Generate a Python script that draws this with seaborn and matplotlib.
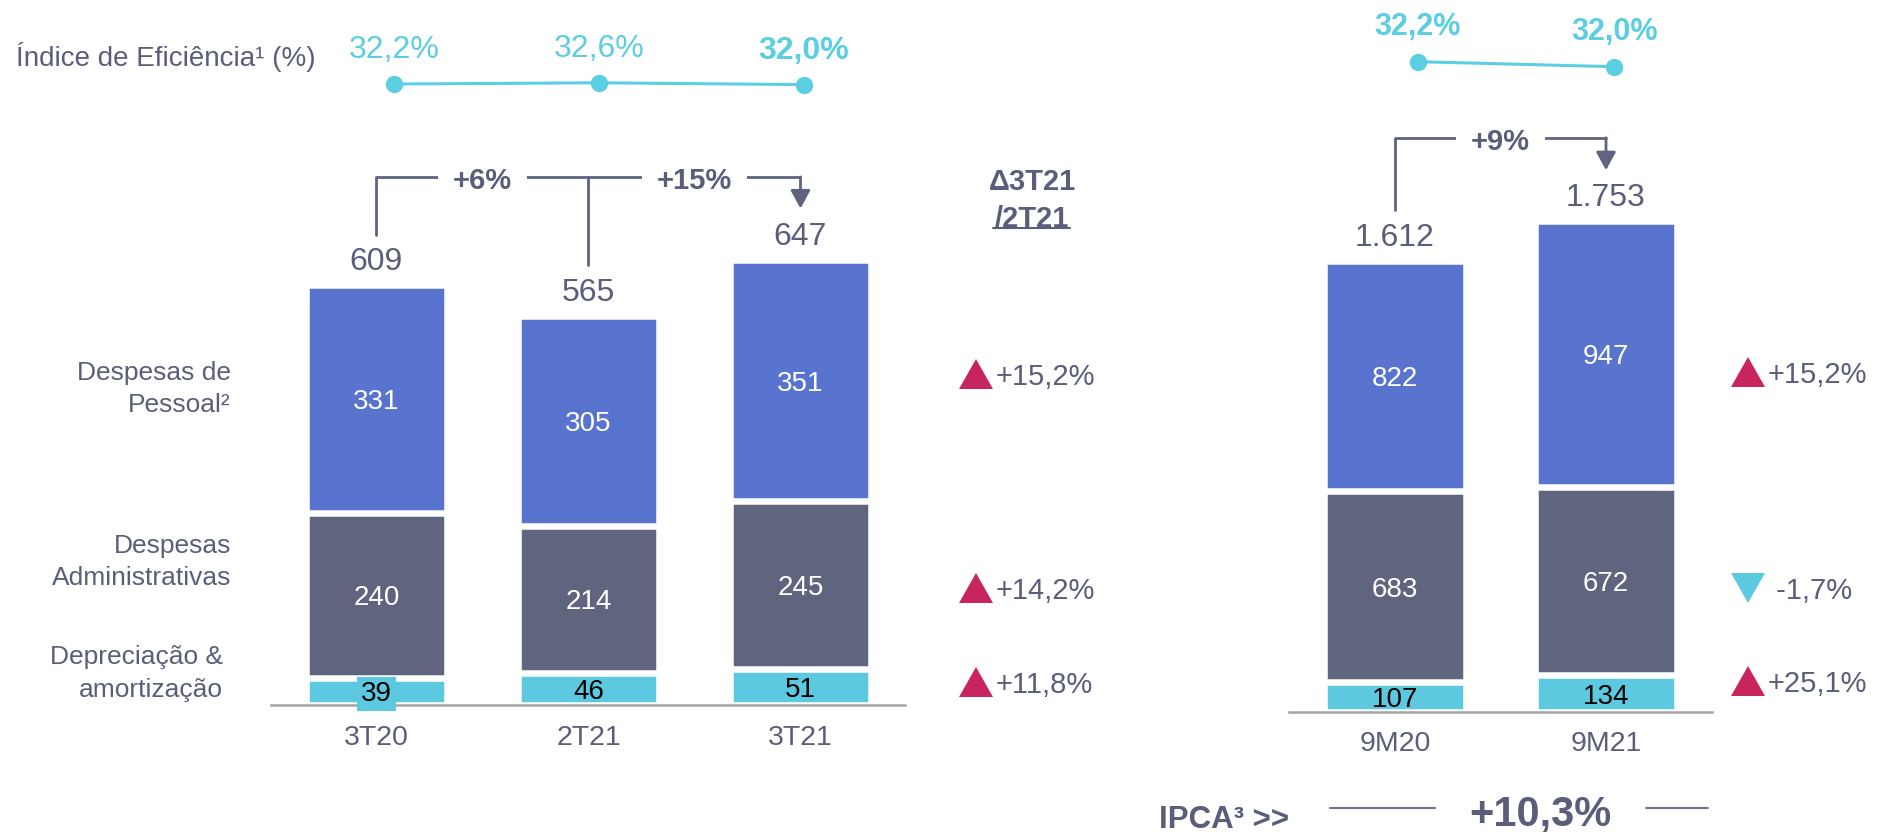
import pandas as pd
import matplotlib
matplotlib.use('Agg')
import matplotlib.pyplot as plt
from matplotlib.patches import Polygon
from matplotlib.lines import Line2D
import seaborn as sns

# quarterly panel
periods_q = ['3T20', '2T21', '3T21']
pessoal_q = [331, 305, 351]
admin_q = [240, 214, 245]
depr_q = [39, 46, 51]
total_q = [609, 565, 647]
efic_q = [32.2, 32.6, 32.0]
growth_q = ['+6%', '+15%']
delta_q = [15.2, 14.2, 11.8]

# nine months panel
periods_9m = ['9M20', '9M21']
pessoal_9m = [822, 947]
admin_9m = [683, 672]
depr_9m = [107, 134]
total_9m = [1612, 1753]
efic_9m = [32.2, 32.0]
growth_9m = ['+9%']
delta_9m = [15.2, -1.7, 25.1]

categories = [['Despesas de', 'Pessoal²'],
              ['Despesas', 'Administrativas'],
              ['Depreciação &', 'amortização']]
ipca = 10.3

BLUE = '#5874CE'
SLATE = '#60657F'
CYAN = '#5CC9E0'
PINK = '#C8245E'
TEXT = '#5A5E7A'
LINE = '#5F6380'
AXIS = '#A5A5A5'
EFF = '#5BCEE2'

sns.set_theme(style='white')
plt.rcParams['font.family'] = ['Liberation Sans', 'DejaVu Sans']

W, H = 1878, 832
fig = plt.figure(figsize=(W / 100, H / 100), dpi=100)


def fx(x):
    return x / W


def fy(y):
    return 1 - y / H


def ftext(x, y, s, size, **kw):
    # y = centre of the cap height, pixels from the top
    fig.text(fx(x), fy(y + 0.358 * size * 100 / 72), s, fontsize=size, va='baseline', **kw)


def br(v):
    return f'{v:,}'.replace(',', '.')


def stacked_panel(ax, periods, pessoal, admin, depr, totals, width, boxed=()):
    df = pd.DataFrame({'periodo': periods, 'pessoal': pessoal, 'admin': admin, 'depr': depr})
    df['mid'] = df['admin'] + df['depr']
    df['top'] = df['mid'] + df['pessoal']
    for col, color in [('top', BLUE), ('mid', SLATE), ('depr', CYAN)]:
        sns.barplot(data=df, x='periodo', y=col, order=periods, color=color, saturation=1,
                    width=width, edgecolor='white', linewidth=4.7, errorbar=None, ax=ax)
    for i, r in df.iterrows():
        parts = [(r.pessoal, r.mid, 'white'), (r.admin, r.depr, 'white'), (r.depr, 0, 'black')]
        for val, base, c in parts:
            box = None
            if c == 'black' and i in boxed:
                box = dict(boxstyle='square,pad=0.15', fc=CYAN, ec='none')
            ax.annotate(str(val), (i, base + val / 2), xytext=(0, -7.2), textcoords='offset points',
                        ha='center', va='baseline', fontsize=20, color=c, bbox=box, zorder=6)
        ax.annotate(br(totals[i]), (i, r.top), xytext=(0, 10.9), textcoords='offset points',
                    ha='center', va='baseline', fontsize=23, color=TEXT)


def style_axis(ax, xlim, ylim, pad):
    ax.set_xlim(*xlim)
    ax.set_ylim(*ylim)
    sns.despine(ax=ax, left=True)
    ax.spines['bottom'].set_color(AXIS)
    ax.spines['bottom'].set_linewidth(1.8)
    ax.spines['bottom'].set_zorder(5)
    ax.set_yticks([])
    ax.set_xlabel('')
    ax.set_ylabel('')
    ax.tick_params(axis='x', length=0, pad=pad, labelsize=20.5, labelcolor=TEXT)
    ax.patch.set_alpha(0)


def bracket(ax, totals, labels, y, lift):
    n = len(totals)
    ax.plot([0, 0, n - 1], [totals[0] + lift, y, y], color=LINE, lw=2, clip_on=False)
    for i in range(1, n - 1):
        ax.plot([i, i], [totals[i] + lift, y], color=LINE, lw=2, clip_on=False)
    for i, lab in enumerate(labels):
        ax.annotate(lab, (i + 0.5, y), xytext=(0, -8.5), textcoords='offset points',
                    ha='center', va='baseline', fontsize=21, fontweight='bold', color=TEXT,
                    bbox=dict(boxstyle='square,pad=0.5', fc='white', ec='none'), zorder=5)
    ax.annotate('', xy=(n - 1, totals[-1] + lift), xytext=(n - 1, y),
                arrowprops=dict(arrowstyle='-|>,head_length=0.55,head_width=0.3', color=LINE,
                                lw=2, shrinkA=0, shrinkB=0, mutation_scale=20))


def efficiency(ax, values, xlim, ylim, bold_all, offset, size):
    sns.lineplot(x=list(range(len(values))), y=values, ax=ax, color=EFF, lw=2.2,
                 marker='o', markersize=12.5, markeredgewidth=0)
    ax.set_xlim(*xlim)
    ax.set_ylim(*ylim)
    ax.axis('off')
    for i, v in enumerate(values):
        weight = 'bold' if (bold_all or i == len(values) - 1) else 'normal'
        ax.annotate(f'{v:.1f}%'.replace('.', ','), (i, v), xytext=(0, offset),
                    textcoords='offset points', ha='center', va='baseline',
                    fontsize=size, fontweight=weight, color=EFF, annotation_clip=False)


def delta_column(x, rows, values):
    for y, v in zip(rows, values):
        if v >= 0:
            pts = [(x - 17, y + 15), (x + 17, y + 15), (x, y - 15)]
            color, label = PINK, f'+{v:.1f}%'
        else:
            pts = [(x - 17, y - 15), (x + 17, y - 15), (x, y + 15)]
            color, label = CYAN, f' {v:.1f}%'
        fig.add_artist(Polygon([(fx(a), fy(b)) for a, b in pts], closed=True,
                               transform=fig.transFigure, color=color, lw=0))
        ftext(x + 20, y + 1, label.replace('.', ','), 21, color=TEXT, ha='left')


# quarterly bars: baseline at 704.5 px, 0.687 px per unit
ax_q = fig.add_axes([fx(271), fy(704.5), 634 / W, 800 * 0.687 / H])
stacked_panel(ax_q, periods_q, pessoal_q, admin_q, depr_q, total_q, 0.667, boxed=(0,))
style_axis(ax_q, (-0.4976, 2.493), (0, 800), 15)
bracket(ax_q, total_q, growth_q, 768, 75)

# nine months bars: baseline at 712.3 px, 0.28 px per unit
ax_m = fig.add_axes([fx(1289), fy(712.3), 423 / W, 2100 * 0.28 / H])
stacked_panel(ax_m, periods_9m, pessoal_9m, admin_9m, depr_9m, total_9m, 0.671)
style_axis(ax_m, (-0.5024, 1.5024), (0, 2100), 13.5)
bracket(ax_m, total_9m, growth_9m, 2052, 183)

# efficiency ratio lines
ax_e1 = fig.add_axes([fx(374), fy(104), 450 / W, 40 / H])
efficiency(ax_e1, efic_q, (-0.0976, 2.0976), (25.53, 38.87), False, 18.4, 23)
ax_e2 = fig.add_axes([fx(1397.8), fy(84), 236.5 / W, 40 / H])
efficiency(ax_e2, efic_9m, (-0.1018, 1.1018), (31.308, 32.908), True, 19.2, 22)

ftext(16, 56.5, 'Índice de Eficiência¹ (%)', 20, color=TEXT, ha='left')

# row labels on the left
label_pos = [(231, [371, 402.6]), (231, [543.5, 576]), (223, [654.6, 687.7])]
for lines, (xr, ys) in zip(categories, label_pos):
    for line, y in zip(lines, ys):
        ftext(xr, y, line, 19, color=TEXT, ha='right')

# variation columns
ftext(1032, 180, 'Δ3T21', 21, color=TEXT, ha='center', fontweight='bold')
ftext(1032, 216.7, '/2T21', 21, color=TEXT, ha='center', fontweight='bold')
fig.add_artist(Line2D([fx(993), fx(1070)], [fy(228), fy(228)], color=TEXT, lw=1.5))
delta_column(976, [374, 588, 682], delta_q)
delta_column(1748, [372, 588, 681], delta_9m)

# IPCA footer
ftext(1159, 816.6, 'IPCA³ >>', 22.5, color=TEXT, ha='left', fontweight='bold')
ftext(1540, 810.7, f'+{ipca:.1f}%'.replace('.', ','), 30, color=TEXT, ha='center', fontweight='bold')
for x0, x1 in [(1330, 1435), (1645.5, 1708)]:
    fig.add_artist(Line2D([fx(x0), fx(x1)], [fy(808), fy(808)], color='#6F7390', lw=1.5))

fig.savefig('out.png', dpi=100)
